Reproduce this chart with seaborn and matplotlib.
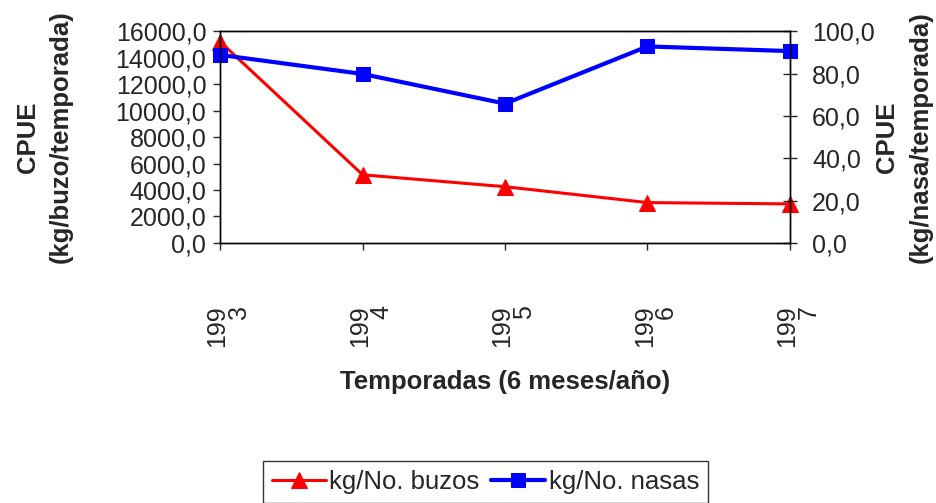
import matplotlib
matplotlib.use("Agg")
import matplotlib.pyplot as plt
import matplotlib.transforms as mtransforms
import seaborn as sns
import pandas as pd
from matplotlib.ticker import FuncFormatter, MultipleLocator

years = ["1993", "1994", "1995", "1996", "1997"]
buzos = [15200, 5150, 4250, 3050, 2950]
nasas = [88.8, 79.8, 65.8, 92.8, 90.6]
tick_labels = ["199\n3", "199\n4", "199\n5", "199\n6", "199\n7"]

sns.set_style("white")
plt.rcParams['font.family'] = ['Liberation Sans', 'DejaVu Sans']

df = pd.DataFrame({"x": list(range(len(years))), "buzos": buzos, "nasas": nasas})

fig = plt.figure(figsize=(9.37, 5.03), dpi=100)
ax = fig.add_axes([0.235, 0.517, 0.608, 0.421])
ax2 = ax.twinx()

sns.lineplot(data=df, x="x", y="buzos", ax=ax, color="#ff0000", marker="^",
             markersize=11, markeredgecolor="#ff0000", linewidth=2.2, legend=False,
             clip_on=False)
sns.lineplot(data=df, x="x", y="nasas", ax=ax2, color="#0000ff", marker="s",
             markersize=10.5, markeredgecolor="#0000ff", linewidth=3, legend=False,
             clip_on=False)

ax.set_xlim(0, len(years) - 1)
ax.set_ylim(0, 16000)
ax2.set_ylim(0, 100)
ax.yaxis.set_major_locator(MultipleLocator(2000))
ax2.yaxis.set_major_locator(MultipleLocator(20))
fmt = FuncFormatter(lambda v, p: f"{v:.1f}".replace(".", ","))
ax.yaxis.set_major_formatter(fmt)
ax2.yaxis.set_major_formatter(fmt)

for a in (ax, ax2):
    for s in a.spines.values():
        s.set_color("black")
        s.set_linewidth(1.0)
ax.tick_params(axis="y", direction="out", length=5, width=1, labelsize=18, left=True, pad=5)
ax2.tick_params(axis="y", direction="inout", length=10, width=1, labelsize=18, right=True, pad=11)
ax.tick_params(axis="x", direction="out", length=5, width=1, labelsize=18, bottom=True, pad=40)

ax.set_xticks(range(len(years)))
ax.set_xticklabels(tick_labels, rotation=90, multialignment="right", va="top",
                   ha="center", linespacing=0.85)
shift = mtransforms.ScaledTranslation(8 / 100, 0, fig.dpi_scale_trans)
for lab in ax.get_xticklabels():
    lab.set_transform(lab.get_transform() + shift)

ax.set_xlabel("Temporadas (6 meses/año)", fontsize=18.5, fontweight="bold")
ax.xaxis.set_label_coords(0.5, (243 - 382) / 212, transform=ax.transAxes)
ax.xaxis.label.set_va("center")

ax.set_ylabel("CPUE\n(kg/buzo/temporada)", fontsize=18.5, fontweight="bold",
              linespacing=1.5, va="center", ha="center")
ax.yaxis.set_label_coords((44 - 220) / 570, 0.5)
ax2.set_ylabel("CPUE\n(kg/nasa/temporada)", fontsize=18.5, fontweight="bold",
               linespacing=1.5, rotation=90, va="center", ha="center")
ax2.yaxis.set_label_coords((904 - 220) / 570, 0.5)

h1 = ax.lines[0]
h2 = ax2.lines[0]
leg = fig.legend([h1, h2], ["kg/No. buzos", "kg/No. nasas"], loc="center",
                 bbox_to_anchor=(485.5 / 937, 1 - 482 / 503), ncol=2, frameon=True,
                 fancybox=False, fontsize=18.5, handlelength=2.1, handletextpad=0.15,
                 columnspacing=0.45, borderpad=0.35, borderaxespad=0,
                 edgecolor="black")
leg.get_frame().set_linewidth(1.0)

fig.savefig("out.png", dpi=100)
